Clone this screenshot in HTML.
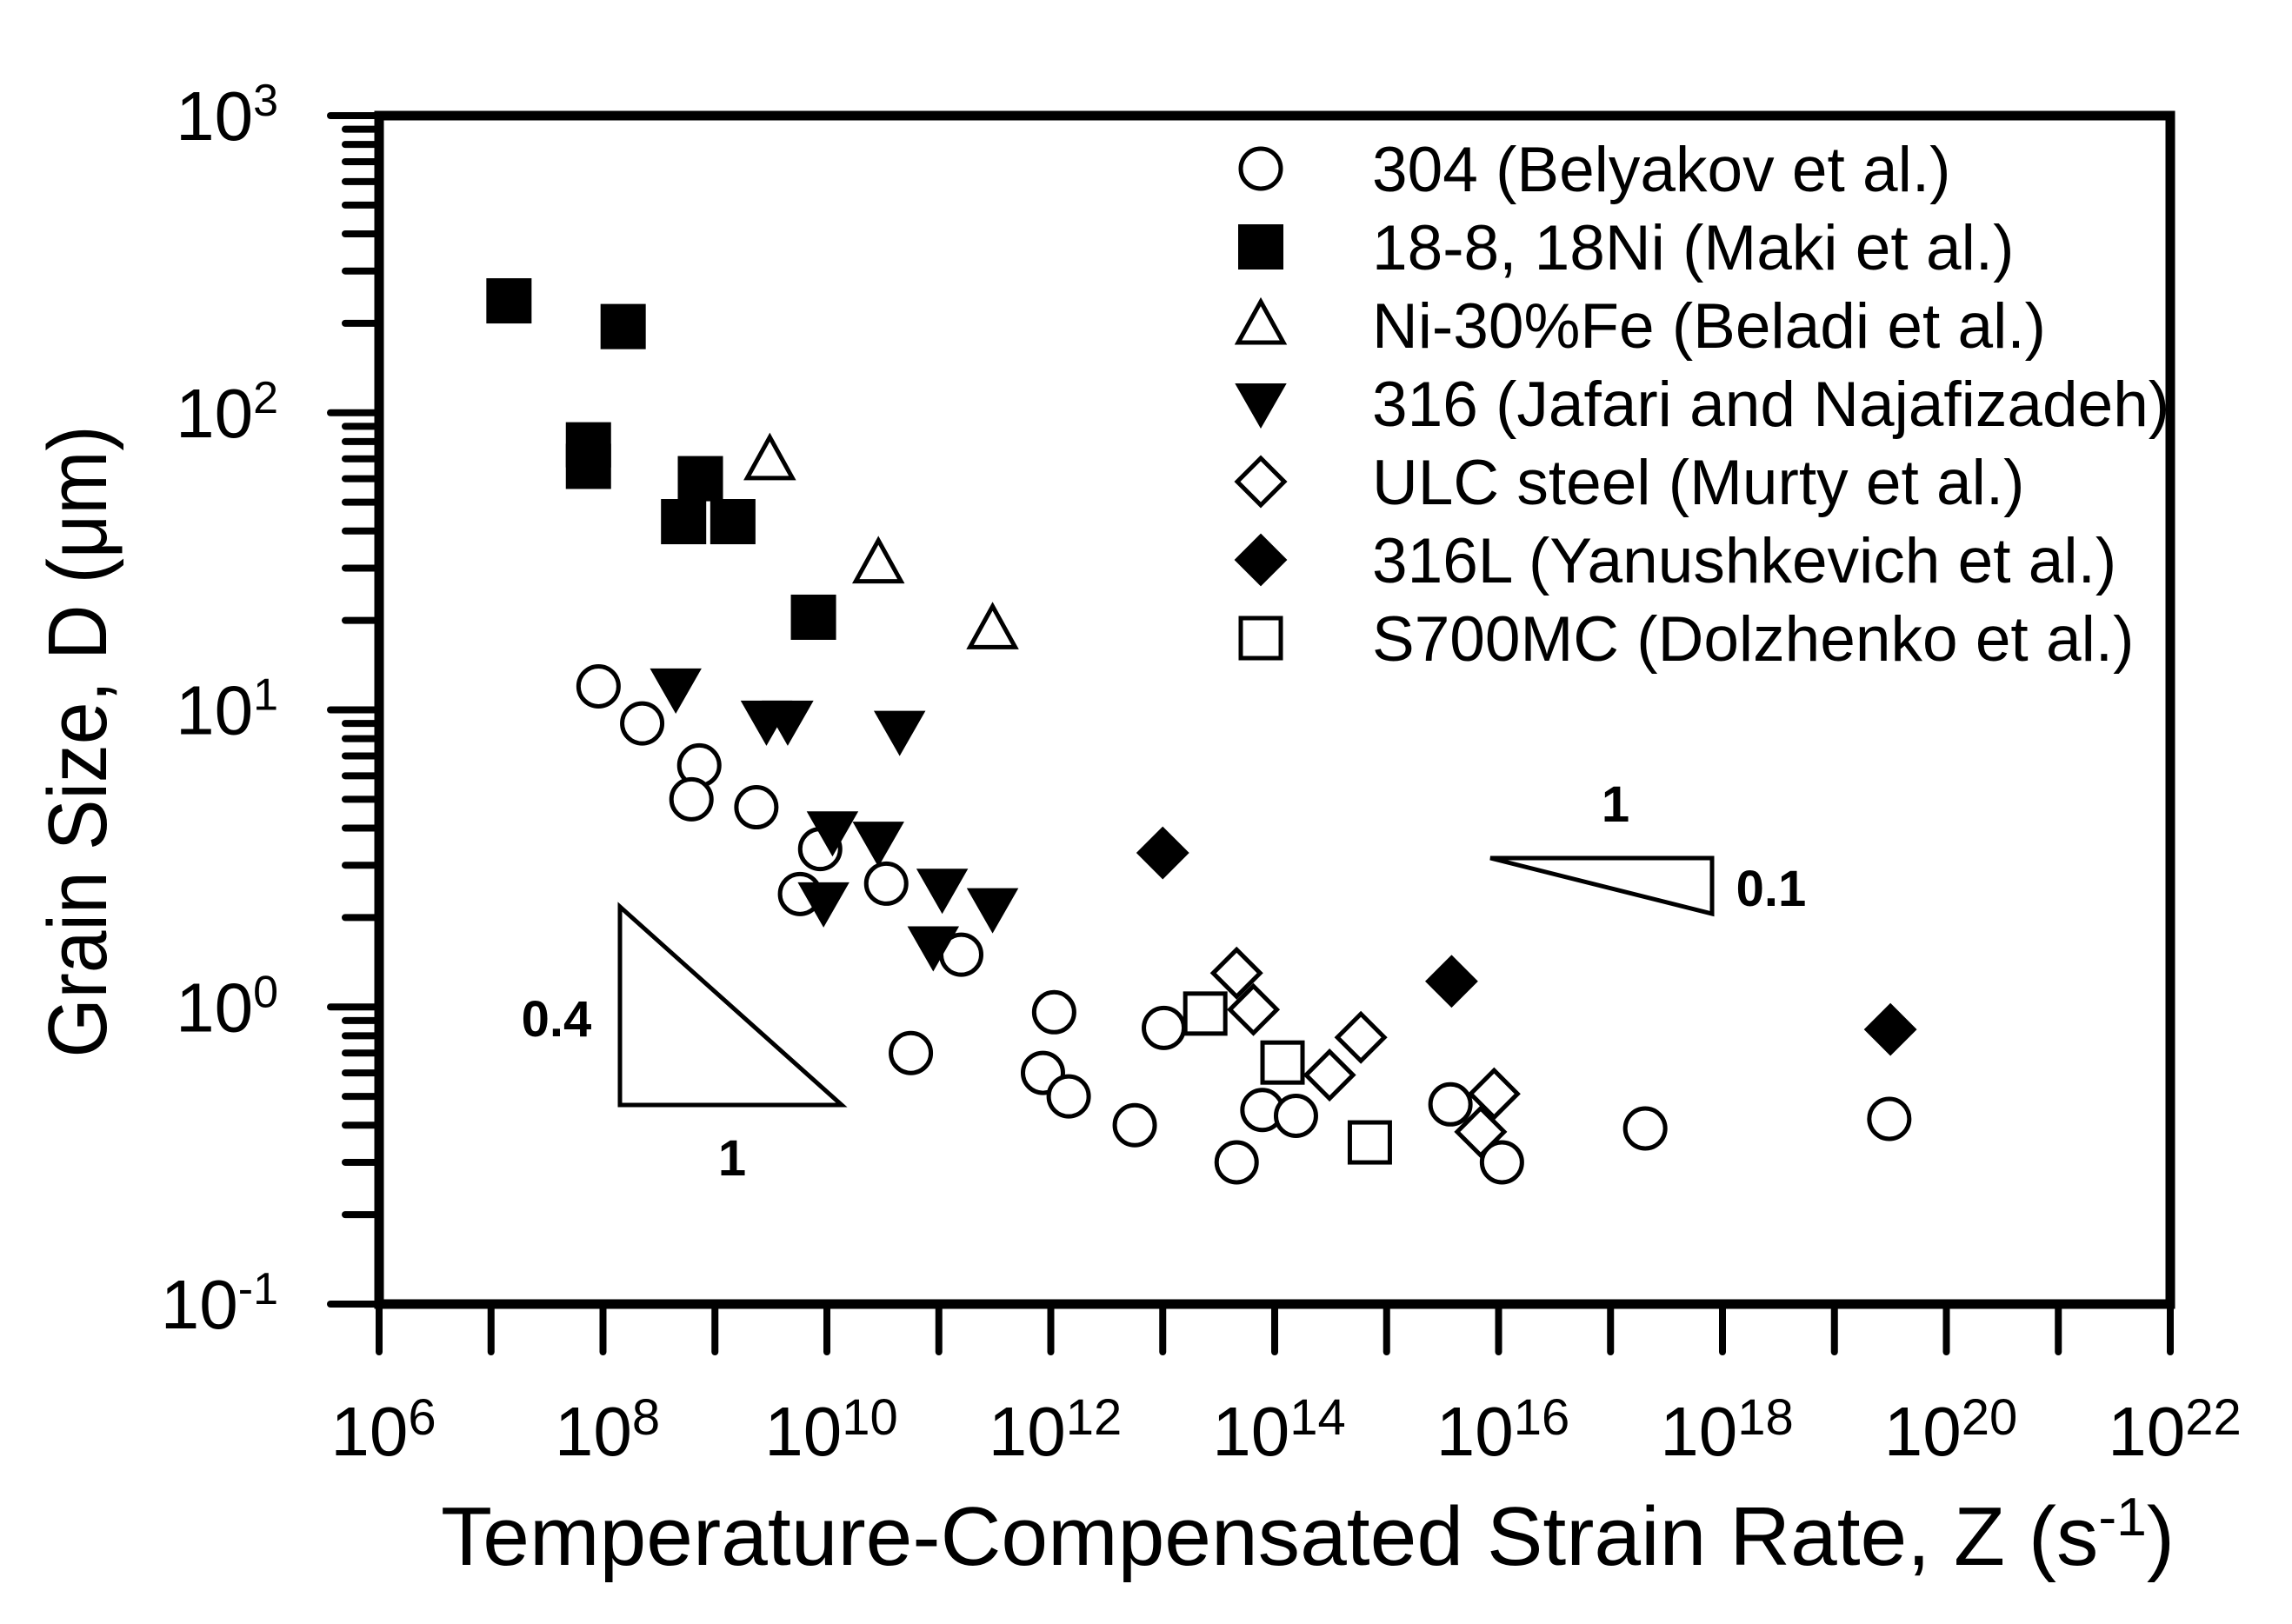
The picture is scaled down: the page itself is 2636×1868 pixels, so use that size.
<!DOCTYPE html>
<html><head><meta charset="utf-8"><style>
html,body{margin:0;padding:0;background:#fff}
svg{display:block}
text{font-family:"Liberation Sans",Arial,sans-serif;fill:#000}
</style></head><body>
<svg id="chart" width="2636" height="1868" viewBox="0 0 2636 1868" xmlns="http://www.w3.org/2000/svg">
<g id="axes"></g>
<g id="marks"></g>
<g id="legend"></g>
<g>
<polygon points="713,1043 713,1271 968,1271" fill="none" stroke="#000" stroke-width="5"/>
<text x="640" y="1192" font-size="58" font-weight="bold" text-anchor="middle">0.4</text>
<text x="842" y="1352" font-size="58" font-weight="bold" text-anchor="middle">1</text>
</g>
<g>
<polygon points="1714,987 1969,987 1969,1051" fill="none" stroke="#000" stroke-width="5"/>
<text x="1858" y="945" font-size="58" font-weight="bold" text-anchor="middle">1</text>
<text x="2037" y="1042" font-size="58" font-weight="bold" text-anchor="middle">0.1</text>
</g>
<text x="507" y="1800" font-size="96" textLength="1994" lengthAdjust="spacingAndGlyphs">Temperature-Compensated Strain Rate, Z (s<tspan dy="-34" font-size="62">-1</tspan><tspan dy="34">)</tspan></text>
<text transform="translate(122,853) rotate(-90)" font-size="96" text-anchor="middle" textLength="727" lengthAdjust="spacingAndGlyphs">Grain Size, D (μm)</text>
</svg>
<script>
const xTicks=[6,8,10,12,14,16,18,20,22];
const yTicks=[-1,0,1,2,3];
const seriesNames=["304 (Belyakov et al.)","18-8, 18Ni (Maki et al.)","Ni-30%Fe (Beladi et al.)","316 (Jafari and Najafizadeh)","ULC steel (Murty et al.)","316L (Yanushkevich et al.)","S700MC (Dolzhenko et al.)"];
const seriesMarkers=["circle","fsquare","tri","ftriDown","diamond","fdiamond","square"];
// log10(Z) values
const z304=[7.96,8.35,8.86,8.79,9.37,9.94,9.76,10.53,11.2,10.75,12.03,11.93,12.16,12.75,13.01,13.66,13.89,14.19,15.57,16.03,17.31,19.49];
const d304=[12,9,6.5,5,4.7,3.4,2.4,2.6,1.5,0.7,0.96,0.6,0.5,0.4,0.85,0.3,0.45,0.43,0.47,0.3,0.39,0.42];
const zMaki=[7.16,8.18,7.87,7.87,8.87,8.72,9.16,9.88];
const dMaki=[238,195,78,66,60,43,43,20.5];
const zNiFe=[9.49,10.46,11.48];
const dNiFe=[69,31,18.6];
const z316=[8.65,9.46,9.65,10.65,10.05,10.46,9.97,11.03,10.95,11.48];
const d316=[11.8,9.2,9.2,8.5,3.9,3.6,2.25,2.5,1.6,2.15];
const zULC=[13.66,13.81,14.49,14.77,15.96,15.84];
const dULC=[1.3,0.98,0.59,0.79,0.51,0.38];
const z316L=[13.0,15.58,19.5];
const d316L=[3.3,1.22,0.84];
const zS700=[13.38,14.07,14.85];
const dS700=[0.95,0.65,0.35];
const seriesZ=[z304,zMaki,zNiFe,z316,zULC,z316L,zS700];
const seriesD=[d304,dMaki,dNiFe,d316,dULC,d316L,dS700];

const NS="http://www.w3.org/2000/svg";
const X0=436,X1=2496,Y0=1500,Y1=133;
function xs(lz){return X0+(lz-6)/(22-6)*(X1-X0);}
function ys(d){return Y0-(Math.log10(d)+1)/4*(Y0-Y1);}
function el(tag,attrs,parent){const e=document.createElementNS(NS,tag);for(const k in attrs)e.setAttribute(k,attrs[k]);parent.appendChild(e);return e;}
const axes=document.getElementById('axes');
const frame=el('rect',{x:X0,y:Y1,width:X1-X0,height:Y0-Y1,fill:'none',stroke:'#000','stroke-width':11},axes);


for(let d=6;d<=22;d++){
  const l=el('line',{x1:xs(d),x2:xs(d),y1:Y0,y2:1555,stroke:'#000','stroke-width':8,'stroke-linecap':'round'},axes);
  
  
}
xTicks.forEach(t=>{
  const tx=el('text',{x:xs(t)+5,y:1674,'font-size':80,'text-anchor':'middle'},axes);
  
  
  tx.innerHTML='10<tspan dy="-24" font-size="58">'+t+'</tspan>';
});
yTicks.forEach((t,i)=>{
  const y=ys(Math.pow(10,t));
  const l=el('line',{x1:380,x2:X0,y1:y,y2:y,stroke:'#000','stroke-width':8,'stroke-linecap':'round'},axes);
  
  
  if(i<yTicks.length-1){
    for(let m=2;m<=9;m++){
      const ym=ys(m*Math.pow(10,t));
      const ml=el('line',{x1:397,x2:X0,y1:ym,y2:ym,stroke:'#000','stroke-width':8,'stroke-linecap':'round'},axes);
      
      
    }
  }
  const tx=el('text',{x:320,y:y+28,'font-size':80,'text-anchor':'end'},axes);
  
  
  tx.innerHTML='10<tspan dy="-28" font-size="52">'+t+'</tspan>';
});
function marker(type,cx,cy,parent){
  const sw=5;let e;
  if(type==='circle')e=el('circle',{cx:cx,cy:cy,r:23,fill:'#fff',stroke:'#000','stroke-width':sw},parent);
  else if(type==='fsquare')e=el('rect',{x:cx-25,y:cy-25,width:50,height:50,fill:'#000',stroke:'#000','stroke-width':2},parent);
  else if(type==='square')e=el('rect',{x:cx-23,y:cy-23,width:46,height:46,fill:'#fff',stroke:'#000','stroke-width':sw},parent);
  else if(type==='tri')e=el('polygon',{points:`${cx},${cy-27} ${cx+26},${cy+20} ${cx-26},${cy+20}`,fill:'#fff',stroke:'#000','stroke-width':sw},parent);
  else if(type==='ftriDown')e=el('polygon',{points:`${cx-28},${cy-22} ${cx+28},${cy-22} ${cx},${cy+27}`,fill:'#000',stroke:'#000','stroke-width':2},parent);
  else if(type==='diamond')e=el('polygon',{points:`${cx},${cy-27} ${cx+27},${cy} ${cx},${cy+27} ${cx-27},${cy}`,fill:'#fff',stroke:'#000','stroke-width':sw},parent);
  else e=el('polygon',{points:`${cx},${cy-29} ${cx+29},${cy} ${cx},${cy+29} ${cx-29},${cy}`,fill:'#000',stroke:'#000','stroke-width':2},parent);
  return e;
}
const marks=document.getElementById('marks');
seriesZ.forEach((zs,si)=>{
  const g=el('g',{},marks);
  
  
  zs.forEach((z,i)=>{
    const m=marker(seriesMarkers[si],xs(z),ys(seriesD[si][i]),g);
    
    
  });
});
const leg=document.getElementById('legend');
seriesNames.forEach((n,i)=>{
  const y=194+i*90;
  const g=el('g',{},leg);
  
  
  marker(seriesMarkers[i],1450,y,g);
  const t=el('text',{x:1578,y:y+26,'font-size':73},g);
  t.textContent=n;
});
</script>
</body></html>
